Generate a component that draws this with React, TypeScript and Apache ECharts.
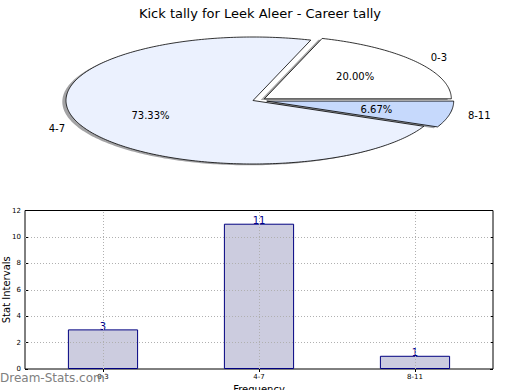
import React, { useEffect, useRef } from "react";
import * as echarts from "echarts";

const titleText = "Kick tally for Leek Aleer - Career tally";
const pieCategories = ["0-3", "4-7", "8-11"];
const pieValues = [3, 11, 1];
const pieColors = ["#ffffff", "#ebf1fe", "#c6d9fc"];
const pieExplode = [14, 0, 14];

const barCategories = ["0-3", "4-7", "8-11"];
const barValues = [3, 11, 1];
const yMin = 0;
const yMax = 12;
const yStep = 2;
const gridYValues = [2, 4, 6, 8, 10];

const FONT = "DejaVu Sans";

export default function App() {
  const ref = useRef<HTMLDivElement>(null);
  useEffect(() => {
    if (!ref.current) return;
    const chart = echarts.init(ref.current, null, { renderer: "svg" });

    const total = pieValues.reduce((a, b) => a + b, 0);
    const cum: number[] = [];
    let acc = 0;
    pieValues.forEach((v) => {
      cum.push(acc);
      acc += v;
    });
    const CX = 253;
    const CY = 100.5;
    const RX = 187;
    const RY = 63.5;

    const renderPie = (params: any, api: any) => {
      const i = params.dataIndex;
      const v = api.value(0);
      const a0 = (cum[i] / total) * Math.PI * 2;
      const a1 = ((cum[i] + v) / total) * Math.PI * 2;
      const am = (a0 + a1) / 2;
      const d = pieExplode[i];
      const cx = CX + d * Math.cos(am);
      const cy = CY - d * Math.sin(am) * (RY / RX) * 0.6;
      const pts: number[][] = [[cx, cy]];
      const steps = Math.max(4, Math.ceil(((a1 - a0) * 180) / Math.PI));
      for (let k = 0; k <= steps; k++) {
        const a = a0 + ((a1 - a0) * k) / steps;
        pts.push([cx + RX * Math.cos(a), cy - RY * Math.sin(a)]);
      }
      const shPts = pts.map((p) => [p[0] - 3.7, p[1] + 1.3]);
      const c = echarts.color.parse(pieColors[i]);
      const shColor = `rgba(${Math.round(c[0] * 0.3)},${Math.round(c[1] * 0.3)},${Math.round(c[2] * 0.3)},0.5)`;
      const lx = cx + 1.1 * RX * Math.cos(am);
      const ly = cy - 1.1 * RY * Math.sin(am);
      const px = cx + 0.6 * RX * Math.cos(am);
      const py = cy - 0.6 * RY * Math.sin(am);
      const pct = ((v / total) * 100).toFixed(2) + "%";
      return {
        type: "group",
        children: [
          {
            type: "polygon",
            z2: 0,
            shape: { points: shPts },
            style: { fill: shColor, stroke: "none" },
          },
          {
            type: "polygon",
            z2: 10,
            shape: { points: pts },
            style: { fill: pieColors[i], stroke: "#000", lineWidth: 0.8 },
          },
          {
            type: "text",
            z2: 20,
            style: {
              text: pieCategories[i],
              x: lx,
              y: ly,
              align: lx >= CX ? "left" : "right",
              verticalAlign: "middle",
              fontSize: 10,
              fontFamily: FONT,
              fill: "#000",
            },
          },
          {
            type: "text",
            z2: 20,
            style: {
              text: pct,
              x: px,
              y: py,
              align: "center",
              verticalAlign: "middle",
              fontSize: 10,
              fontFamily: FONT,
              fill: "#000",
            },
          },
        ],
      };
    };

    const dotted = { color: "#b0b0b0", width: 1, type: [1, 2] as any };

    chart.setOption({
      animation: false,
      textStyle: { fontFamily: FONT },
      title: {
        text: titleText,
        left: "center",
        top: 2,
        textStyle: { fontSize: 13, fontWeight: "normal", color: "#000", fontFamily: FONT },
      },
      grid: {
        left: 25,
        right: 27,
        top: 210.5,
        bottom: 21,
        show: true,
        borderColor: "#000",
        borderWidth: 1,
        backgroundColor: "transparent",
        containLabel: false,
        outerBoundsMode: "none",
      },
      xAxis: [
        {
          type: "category",
          data: barCategories,
          position: "bottom",
          axisLine: { show: false },
          axisTick: { show: true, inside: true, alignWithLabel: true, length: 3, lineStyle: { color: "#000" } },
          axisLabel: { fontSize: 7, color: "#000", margin: 4, fontFamily: FONT },
          splitLine: { show: false },
          name: "Frequency",
          nameLocation: "middle",
          nameGap: 15,
          nameMoveOverlap: false,
          nameTextStyle: { fontSize: 10, color: "#000", fontFamily: FONT },
        },
        {
          type: "category",
          data: barCategories,
          position: "top",
          axisLine: { show: false },
          axisTick: { show: true, inside: true, alignWithLabel: true, length: 3, lineStyle: { color: "#000" } },
          axisLabel: { show: false },
          splitLine: { show: false },
        },
      ],
      yAxis: [
        {
          type: "value",
          min: yMin,
          max: yMax,
          interval: yStep,
          position: "left",
          axisLine: { show: false },
          axisTick: { show: true, inside: true, length: 3, lineStyle: { color: "#000" } },
          axisLabel: { fontSize: 7, color: "#000", margin: 4, fontFamily: FONT },
          splitLine: { show: false },
          name: "Stat Intervals",
          nameLocation: "middle",
          nameGap: 14,
          nameMoveOverlap: false,
          nameTextStyle: { fontSize: 10, color: "#000", fontFamily: FONT },
        },
        {
          type: "value",
          min: yMin,
          max: yMax,
          interval: yStep,
          position: "right",
          axisLine: { show: false },
          axisTick: { show: true, inside: true, length: 3, lineStyle: { color: "#000" } },
          axisLabel: { show: false },
          splitLine: { show: false },
        },
      ],
      graphic: [
        {
          type: "text",
          left: 0,
          top: 372,
          z: 100,
          style: {
            text: "Dream-Stats.com",
            fontSize: 12,
            fontFamily: FONT,
            fill: "#808080",
          },
        },
      ],
      series: [
        {
          type: "custom",
          coordinateSystem: "none",
          data: pieValues.map((v) => [v]),
          renderItem: renderPie,
          silent: true,
        },
        {
          type: "bar",
          xAxisIndex: 0,
          yAxisIndex: 0,
          data: barValues,
          barWidth: "45%",
          itemStyle: { color: "#ccccdf", borderColor: "#000080", borderWidth: 1 },
          label: {
            show: true,
            position: "top",
            distance: -2,
            color: "#00008b",
            fontSize: 10,
            fontFamily: FONT,
          },
          markLine: {
            silent: true,
            symbol: "none",
            label: { show: false },
            lineStyle: dotted,
            data: [
              ...barCategories.map((c) => ({ xAxis: c })),
              ...gridYValues.map((y) => ({ yAxis: y })),
            ],
          },
        },
      ],
    });
    return () => chart.dispose();
  }, []);
  return (
    <div
      ref={ref}
      style={{ position: "fixed", left: 0, top: 0, width: 520, height: 390, background: "#fff" }}
    />
  );
}
